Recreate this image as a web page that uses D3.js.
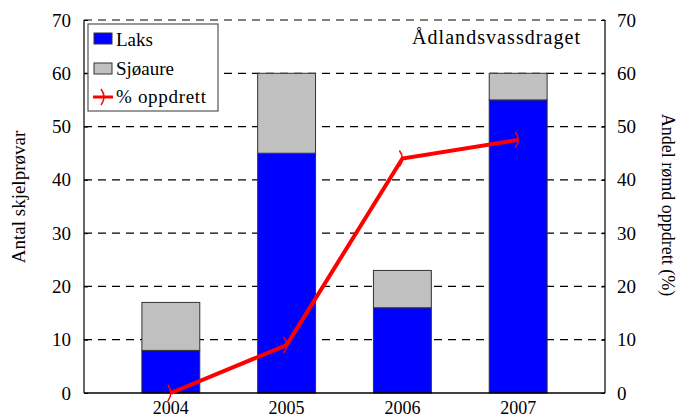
<!DOCTYPE html>
<html>
<head>
<meta charset="utf-8">
<script src="https://cdn.jsdelivr.net/npm/d3@7"></script>
<style>
  body { margin: 0; background: #fff; }
  text { font-family: "Liberation Serif", "Times New Roman", serif; fill: #000; }
</style>
</head>
<body>
<div id="chart"></div>
<script>
// data
var years = ["2004", "2005", "2006", "2007"];
var laks = [8, 45, 16, 55];
var sjoaure = [9, 15, 7, 5];
var oppdrett = [0, 9, 44, 47.5];
var yTicks = [0, 10, 20, 30, 40, 50, 60, 70];

var width = 680, height = 417;
var plotLeft = 84, plotRight = 605, plotTop = 20, plotBottom = 393;
var serif = "'Liberation Serif', 'Times New Roman', serif";

var svg = d3.select("#chart").append("svg")
    .attr("width", width)
    .attr("height", height);

var x = d3.scaleBand().domain(years).range([plotLeft, plotRight]).padding(0.5);
var y = d3.scaleLinear().domain([0, 70]).range([plotBottom, plotTop]);
var y2 = d3.scaleLinear().domain([0, 70]).range([plotBottom, plotTop]);

// dashed gridlines
svg.append("g").selectAll("line")
    .data(yTicks.filter(function(d) { return d > 0; }))
    .enter().append("line")
    .attr("x1", plotLeft).attr("x2", plotRight)
    .attr("y1", function(d) { return y(d); })
    .attr("y2", function(d) { return y(d); })
    .attr("stroke", "#000")
    .attr("stroke-width", 1.2)
    .attr("stroke-dasharray", "8,6");

// stacked bars
var rows = years.map(function(yr, i) { return { year: yr, laks: laks[i], sjo: sjoaure[i] }; });
var bars = svg.append("g");
bars.selectAll(".laks").data(rows).enter().append("rect")
    .attr("class", "laks")
    .attr("x", function(d) { return x(d.year); })
    .attr("width", x.bandwidth())
    .attr("y", function(d) { return y(d.laks); })
    .attr("height", function(d) { return y(0) - y(d.laks); })
    .attr("fill", "#0000ff")
    .attr("stroke", "#333")
    .attr("stroke-width", 1);
bars.selectAll(".sjo").data(rows).enter().append("rect")
    .attr("class", "sjo")
    .attr("x", function(d) { return x(d.year); })
    .attr("width", x.bandwidth())
    .attr("y", function(d) { return y(d.laks + d.sjo); })
    .attr("height", function(d) { return y(d.laks) - y(d.laks + d.sjo); })
    .attr("fill", "#c0c0c0")
    .attr("stroke", "#333")
    .attr("stroke-width", 1);

// axes frame
svg.append("line").attr("x1", plotLeft).attr("x2", plotLeft).attr("y1", plotTop).attr("y2", plotBottom).attr("stroke", "#000").attr("stroke-width", 1.2);
svg.append("line").attr("x1", plotRight).attr("x2", plotRight).attr("y1", plotTop).attr("y2", plotBottom).attr("stroke", "#000").attr("stroke-width", 1.2);
svg.append("line").attr("x1", plotLeft).attr("x2", plotRight).attr("y1", plotBottom).attr("y2", plotBottom).attr("stroke", "#000").attr("stroke-width", 1.5);

var yAxis = svg.append("g").attr("transform", "translate(" + plotLeft + ",0)")
    .call(d3.axisRight(y).tickValues(yTicks).tickSize(4));
yAxis.select(".domain").remove();
yAxis.selectAll("text").attr("text-anchor", "end").attr("x", -13).attr("font-size", 19).attr("font-family", serif);

var yAxis2 = svg.append("g").attr("transform", "translate(" + plotRight + ",0)")
    .call(d3.axisLeft(y2).tickValues(yTicks).tickSize(4));
yAxis2.select(".domain").remove();
yAxis2.selectAll("text").attr("text-anchor", "start").attr("x", 12).attr("font-size", 19).attr("font-family", serif);

var xAxis = svg.append("g").attr("transform", "translate(0," + plotBottom + ")")
    .call(d3.axisBottom(x).tickSize(0).tickPadding(8));
xAxis.select(".domain").remove();
xAxis.selectAll("text").attr("font-size", 18).attr("font-family", serif);

// line
var line = d3.line()
    .x(function(d, i) { return x(years[i]) + x.bandwidth() / 2; })
    .y(function(d) { return y2(d); });
svg.append("path")
    .datum(oppdrett)
    .attr("d", line)
    .attr("fill", "none")
    .attr("stroke", "#ff0000")
    .attr("stroke-width", 4)
    .attr("stroke-linejoin", "miter");

// small arc markers
var marker = "M -3,-8 Q 3,0 -3,8";
svg.append("g").selectAll("path")
    .data(oppdrett)
    .enter().append("path")
    .attr("transform", function(d, i) { return "translate(" + (x(years[i]) + x.bandwidth() / 2) + "," + y2(d) + ")"; })
    .attr("d", marker)
    .attr("fill", "none")
    .attr("stroke", "#ff0000")
    .attr("stroke-width", 1.5);

// legend
var lg = svg.append("g");
lg.append("rect").attr("x", 88).attr("y", 24).attr("width", 130).attr("height", 87)
    .attr("fill", "#fff").attr("stroke", "#555").attr("stroke-width", 1.2);
lg.append("rect").attr("x", 94).attr("y", 33).attr("width", 18).attr("height", 11)
    .attr("fill", "#0000ff").attr("stroke", "#333");
lg.append("rect").attr("x", 94).attr("y", 63).attr("width", 18).attr("height", 11)
    .attr("fill", "#c0c0c0").attr("stroke", "#333");
lg.append("line").attr("x1", 93).attr("x2", 113).attr("y1", 97).attr("y2", 97)
    .attr("stroke", "#ff0000").attr("stroke-width", 3);
lg.append("path").attr("transform", "translate(104,97)").attr("d", marker)
    .attr("fill", "none").attr("stroke", "#ff0000").attr("stroke-width", 1.5);
lg.append("text").attr("x", 116).attr("y", 46).attr("font-size", 19).text("Laks");
lg.append("text").attr("x", 116).attr("y", 75).attr("font-size", 19).text("Sjøaure");
lg.append("text").attr("x", 116).attr("y", 103).attr("font-size", 19).attr("textLength", 90).text("% oppdrett");

// title
svg.append("text").attr("x", 412).attr("y", 44)
    .attr("font-size", 20).attr("textLength", 168).attr("lengthAdjust", "spacing").text("Ådlandsvassdraget");

// axis titles
svg.append("text").attr("transform", "translate(25,197) rotate(-90)")
    .attr("text-anchor", "middle").attr("font-size", 19).text("Antal skjelprøvar");
svg.append("text").attr("transform", "translate(662,205) rotate(90)")
    .attr("text-anchor", "middle").attr("font-size", 18).text("Andel rømd oppdrett (%)");
</script>
</body>
</html>
